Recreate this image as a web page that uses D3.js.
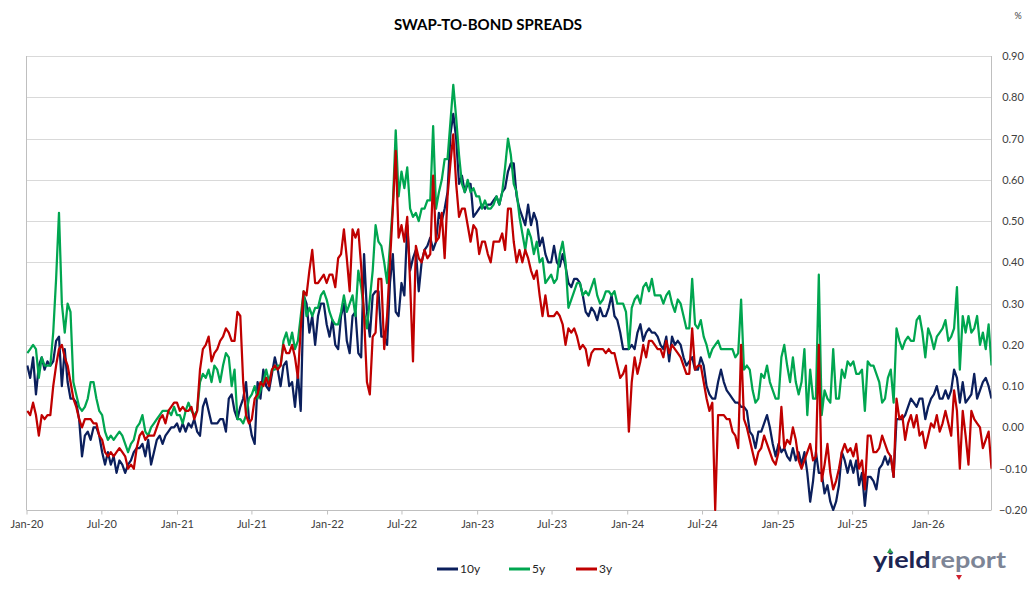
<!doctype html>
<html>
<head>
<meta charset="utf-8">
<script src="https://d3js.org/d3.v7.min.js"></script>
<style>
  body { margin: 0; background: #fff; }
  text { font-family: Lato, "Open Sans", sans-serif; }
</style>
</head>
<body>
<svg width="1035" height="589"></svg>
<script>
// weekly readings, first one on 3 Jan 2020
var startDate = new Date(2020, 0, 3);
var seriesNames = ["10y", "5y", "3y"];
var seriesColors = ["#0b1f5c", "#00a650", "#c00000"];
var yTicks = [-0.2, -0.1, 0, 0.1, 0.2, 0.3, 0.4, 0.5, 0.6, 0.7, 0.8, 0.9];

var tenYear = [
  0.15,0.12,0.17,0.08,0.15,0.17,0.14,0.16,0.15,0.16,
  0.21,0.22,0.10,0.19,0.11,0.07,0.07,0.06,0.02,-0.07,
  -0.02,-0.01,-0.03,0.00,0.00,-0.02,-0.06,-0.09,-0.06,-0.09,
  -0.07,-0.11,-0.08,-0.09,-0.11,-0.09,-0.08,-0.06,-0.05,-0.05,
  -0.04,-0.07,-0.03,-0.09,-0.06,-0.03,-0.02,-0.04,-0.02,-0.01,
  0.00,0.00,0.01,-0.01,0.01,-0.01,0.01,0.00,0.02,-0.01,
  -0.02,0.05,0.07,0.04,0.01,0.01,0.01,0.02,0.02,-0.01,
  0.07,0.08,0.04,0.02,0.05,0.07,0.11,0.02,-0.02,-0.04,
  0.11,0.07,0.14,0.10,0.09,0.13,0.17,0.14,0.10,0.15,
  0.16,0.10,0.11,0.05,0.13,0.04,0.32,0.30,0.23,0.27,
  0.20,0.27,0.30,0.30,0.25,0.22,0.26,0.20,0.19,0.27,
  0.30,0.21,0.18,0.27,0.28,0.18,0.17,0.42,0.28,0.22,
  0.32,0.33,0.33,0.22,0.22,0.20,0.35,0.42,0.28,0.27,
  0.35,0.32,0.49,0.38,0.41,0.43,0.33,0.40,0.43,0.44,
  0.46,0.43,0.45,0.52,0.50,0.53,0.57,0.71,0.76,0.70,
  0.59,0.61,0.57,0.59,0.59,0.51,0.52,0.53,0.54,0.53,
  0.54,0.54,0.55,0.56,0.54,0.57,0.58,0.62,0.64,0.64,
  0.56,0.53,0.51,0.49,0.54,0.49,0.52,0.50,0.44,0.46,
  0.42,0.40,0.40,0.44,0.40,0.39,0.42,0.39,0.35,0.34,
  0.36,0.36,0.35,0.32,0.28,0.27,0.29,0.28,0.26,0.29,
  0.27,0.27,0.29,0.32,0.27,0.26,0.23,0.19,0.19,0.19,
  0.20,0.19,0.23,0.25,0.21,0.23,0.24,0.23,0.23,0.22,
  0.20,0.19,0.22,0.16,0.22,0.20,0.21,0.20,0.17,0.15,
  0.16,0.17,0.14,0.14,0.17,0.15,0.10,0.08,0.07,0.07,
  0.11,0.14,0.11,0.09,0.08,0.07,0.06,0.06,0.05,0.05,
  0.04,-0.01,-0.02,-0.05,-0.01,-0.01,0.01,0.03,0.00,-0.04,
  -0.07,-0.04,-0.06,-0.05,-0.07,-0.08,-0.05,-0.08,-0.06,-0.09,
  -0.06,-0.11,-0.18,-0.13,-0.06,-0.11,-0.11,-0.16,-0.14,-0.18,
  -0.20,-0.18,-0.14,-0.06,-0.08,-0.11,-0.08,-0.11,-0.08,-0.14,
  -0.11,-0.19,-0.12,-0.12,-0.13,-0.15,-0.10,-0.09,-0.07,-0.09,
  -0.07,-0.12,0.02,0.02,0.02,0.03,0.05,0.07,0.06,0.05,
  0.07,0.07,0.02,0.05,0.07,0.08,0.10,0.07,0.07,0.09,
  0.07,0.09,0.14,0.12,0.06,0.11,0.06,0.07,0.08,0.13,
  0.07,0.09,0.11,0.12,0.10,0.07
];

var fiveYear = [
  0.18,0.19,0.20,0.19,0.12,0.17,0.15,0.15,0.15,0.23,
  0.36,0.52,0.30,0.23,0.30,0.28,0.11,0.08,0.05,0.04,
  0.05,0.07,0.11,0.11,0.07,0.04,0.03,-0.01,-0.03,-0.02,
  -0.03,-0.02,-0.01,-0.02,-0.04,-0.06,-0.04,-0.03,0.00,0.01,
  0.03,-0.01,-0.02,0.00,0.01,0.02,0.03,0.04,0.04,0.04,
  0.03,0.05,0.03,0.03,0.01,0.04,0.06,0.04,0.03,0.04,
  0.11,0.13,0.12,0.14,0.11,0.15,0.14,0.11,0.15,0.18,
  0.17,0.10,0.14,0.02,0.02,0.01,0.03,0.07,0.08,0.10,
  0.07,0.09,0.11,0.14,0.11,0.14,0.14,0.15,0.15,0.21,
  0.23,0.20,0.23,0.19,0.21,0.27,0.33,0.27,0.29,0.27,
  0.29,0.29,0.32,0.33,0.31,0.28,0.26,0.25,0.25,0.28,
  0.32,0.28,0.30,0.32,0.27,0.38,0.34,0.28,0.24,0.31,
  0.38,0.49,0.45,0.44,0.40,0.35,0.44,0.54,0.72,0.56,
  0.62,0.58,0.63,0.53,0.51,0.52,0.50,0.53,0.53,0.55,
  0.55,0.73,0.53,0.57,0.60,0.65,0.65,0.74,0.83,0.75,
  0.66,0.59,0.57,0.60,0.57,0.58,0.56,0.56,0.53,0.55,
  0.53,0.53,0.54,0.56,0.54,0.57,0.63,0.70,0.66,0.59,
  0.57,0.51,0.47,0.43,0.48,0.46,0.42,0.45,0.40,0.41,
  0.35,0.36,0.37,0.35,0.36,0.42,0.45,0.40,0.29,0.31,
  0.33,0.35,0.35,0.32,0.33,0.32,0.34,0.36,0.32,0.30,
  0.31,0.33,0.33,0.32,0.33,0.30,0.30,0.30,0.28,0.19,
  0.29,0.31,0.32,0.30,0.34,0.35,0.33,0.36,0.32,0.32,
  0.32,0.30,0.32,0.33,0.30,0.28,0.31,0.30,0.27,0.24,
  0.24,0.36,0.25,0.24,0.26,0.22,0.20,0.17,0.19,0.20,
  0.21,0.19,0.19,0.19,0.19,0.19,0.17,0.18,0.31,0.14,
  0.15,0.14,0.09,0.06,0.07,0.13,0.12,0.15,0.11,0.09,
  0.07,0.07,0.17,0.20,0.15,0.11,0.17,0.11,0.08,0.11,
  0.19,0.03,0.14,0.07,0.07,0.37,0.03,0.09,0.07,0.06,
  0.19,0.07,0.07,0.14,0.12,0.16,0.15,0.16,0.13,0.13,
  0.14,0.04,0.16,0.15,0.15,0.13,0.11,0.06,0.07,0.12,
  0.14,0.06,0.24,0.21,0.19,0.21,0.22,0.21,0.21,0.26,
  0.27,0.23,0.17,0.24,0.22,0.19,0.22,0.23,0.24,0.26,
  0.21,0.22,0.24,0.34,0.14,0.27,0.23,0.27,0.23,0.24,
  0.27,0.20,0.23,0.19,0.25,0.15
];

var threeYear = [
  0.04,0.03,0.06,0.03,-0.02,0.03,0.02,0.03,0.03,0.10,
  0.15,0.19,0.20,0.17,0.15,0.11,0.07,0.05,0.02,0.00,
  0.02,0.02,0.02,0.01,0.01,-0.02,-0.03,-0.06,-0.07,-0.06,
  -0.07,-0.06,-0.05,-0.06,-0.07,-0.10,-0.09,-0.10,-0.05,-0.02,
  -0.01,-0.03,-0.02,-0.02,-0.02,0.00,0.02,0.03,0.01,0.04,
  0.05,0.06,0.06,0.04,0.05,0.04,0.04,0.05,0.02,0.04,
  0.14,0.19,0.20,0.22,0.16,0.18,0.19,0.21,0.22,0.24,
  0.23,0.21,0.21,0.28,0.27,0.11,0.03,0.01,0.02,0.07,
  0.08,0.11,0.10,0.12,0.10,0.14,0.15,0.14,0.15,0.20,
  0.18,0.18,0.20,0.17,0.12,0.24,0.33,0.32,0.38,0.43,
  0.35,0.35,0.36,0.37,0.35,0.37,0.37,0.34,0.41,0.42,
  0.48,0.41,0.33,0.48,0.46,0.48,0.39,0.27,0.11,0.08,
  0.22,0.23,0.36,0.36,0.19,0.27,0.40,0.53,0.67,0.46,
  0.49,0.45,0.51,0.35,0.16,0.44,0.41,0.40,0.43,0.41,
  0.42,0.61,0.45,0.46,0.52,0.41,0.56,0.64,0.71,0.59,
  0.51,0.53,0.53,0.49,0.45,0.49,0.48,0.42,0.45,0.45,
  0.42,0.40,0.45,0.45,0.45,0.47,0.43,0.53,0.53,0.45,
  0.40,0.43,0.40,0.43,0.41,0.38,0.36,0.38,0.32,0.27,
  0.32,0.27,0.27,0.27,0.28,0.27,0.25,0.20,0.24,0.23,
  0.24,0.22,0.19,0.20,0.19,0.15,0.18,0.19,0.19,0.19,
  0.19,0.18,0.19,0.18,0.18,0.15,0.12,0.13,0.15,-0.01,
  0.11,0.17,0.13,0.16,0.20,0.17,0.21,0.21,0.20,0.19,
  0.19,0.17,0.21,0.18,0.20,0.19,0.18,0.17,0.15,0.13,
  0.13,0.24,0.14,0.15,0.15,0.11,0.07,0.04,0.06,-0.20,
  0.03,0.03,0.03,0.02,0.02,-0.01,-0.02,-0.05,0.20,0.02,
  0.00,-0.03,-0.06,-0.09,-0.06,-0.05,-0.02,-0.04,-0.06,-0.08,
  -0.09,-0.06,0.05,-0.05,-0.03,-0.04,0.00,-0.03,-0.08,-0.10,
  -0.08,-0.06,-0.04,-0.08,-0.07,0.20,-0.13,-0.09,-0.04,-0.11,
  -0.15,-0.13,-0.10,-0.06,-0.04,-0.06,-0.05,-0.07,-0.04,-0.10,
  -0.08,-0.15,-0.02,-0.02,-0.06,-0.06,-0.05,-0.02,-0.04,-0.06,
  -0.07,-0.12,0.07,0.02,0.03,-0.03,0.01,0.03,0.00,0.03,
  -0.02,-0.01,-0.05,-0.02,0.01,0.00,0.03,-0.01,0.01,0.04,
  0.01,-0.02,0.09,0.04,-0.10,0.04,-0.02,-0.09,0.04,0.02,
  0.01,0.00,-0.05,-0.03,-0.01,-0.10
];

var svg = d3.select("svg");
var plotLeft = 26.5, plotRight = 991.5, plotTop = 56, plotBottom = 510;

var dates = tenYear.map(function(d, i) { return d3.timeDay.offset(startDate, 7 * i); });
var allSeries = [tenYear, fiveYear, threeYear];

var x = d3.scaleTime()
    .domain([new Date(2020, 0, 1), dates[dates.length - 1]])
    .range([plotLeft, plotRight]);
var y = d3.scaleLinear().domain([-0.2, 0.9]).range([plotBottom, plotTop]);

// title and unit
svg.append("text")
   .attr("x", 488).attr("y", 30)
   .attr("text-anchor", "middle")
   .attr("font-size", "15px").attr("font-weight", "bold")
   .attr("fill", "#000")
   .text("SWAP-TO-BOND SPREADS");

svg.append("text")
   .attr("x", 1018).attr("y", 19)
   .attr("text-anchor", "middle")
   .attr("font-size", "9px").attr("fill", "#404040")
   .text("%");

// gridlines
svg.append("g")
   .selectAll("line")
   .data(yTicks)
   .enter().append("line")
   .attr("x1", plotLeft).attr("x2", plotRight)
   .attr("y1", function(d) { return Math.round(y(d)) + 0.5; })
   .attr("y2", function(d) { return Math.round(y(d)) + 0.5; })
   .attr("stroke", function(d) { return d === -0.2 ? "#bfbfbf" : "#d9d9d9"; })
   .attr("stroke-width", 1);

// plot border sides
svg.append("line").attr("x1", plotLeft).attr("x2", plotLeft).attr("y1", plotTop).attr("y2", plotBottom)
   .attr("stroke", "#bfbfbf");
svg.append("line").attr("x1", plotRight).attr("x2", plotRight).attr("y1", plotTop).attr("y2", plotBottom)
   .attr("stroke", "#bfbfbf");

// right axis labels
svg.append("g")
   .selectAll("text")
   .data(yTicks)
   .enter().append("text")
   .attr("x", 1013)
   .attr("y", function(d) { return y(d) + 4; })
   .attr("text-anchor", "middle")
   .attr("font-size", "11px").attr("fill", "#404040")
   .text(function(d) { return d3.format(".2f")(d); });

// x axis
var xAxis = d3.axisBottom(x)
    .tickValues(d3.timeMonth.every(6).range(new Date(2020, 0, 1), dates[dates.length - 1]))
    .tickFormat(d3.timeFormat("%b-%y"))
    .tickSize(4)
    .tickPadding(6);

var gx = svg.append("g")
   .attr("transform", "translate(0," + (plotBottom + 0.5) + ")")
   .call(xAxis);
gx.select(".domain").remove();
gx.selectAll(".tick line").attr("stroke", "#bfbfbf");
gx.selectAll(".tick text")
  .attr("font-size", "11px").attr("fill", "#404040")
  .attr("font-family", "Lato, 'Open Sans', sans-serif");

// series
svg.append("clipPath").attr("id", "plot")
   .append("rect").attr("x", plotLeft).attr("y", plotTop - 1)
   .attr("width", plotRight - plotLeft).attr("height", plotBottom - plotTop + 2);

var line = d3.line()
    .x(function(d, i) { return x(dates[i]); })
    .y(function(d) { return y(d); });

svg.append("g")
   .attr("clip-path", "url(#plot)")
   .selectAll("path")
   .data(allSeries)
   .enter().append("path")
   .attr("d", line)
   .attr("fill", "none")
   .attr("stroke", function(d, i) { return seriesColors[i]; })
   .attr("stroke-width", 2.25)
   .attr("stroke-linejoin", "round");

// legend
var legendX = [437, 509, 576];
var legend = svg.append("g")
   .selectAll("g")
   .data(seriesNames)
   .enter().append("g")
   .attr("transform", function(d, i) { return "translate(" + legendX[i] + ",569)"; });
legend.append("line")
   .attr("x1", 0).attr("x2", 21).attr("y1", 0).attr("y2", 0)
   .attr("stroke", function(d, i) { return seriesColors[i]; })
   .attr("stroke-width", 3);
legend.append("text")
   .attr("x", 23).attr("y", 4)
   .attr("font-size", "12px").attr("fill", "#262626")
   .text(function(d) { return d; });

// yieldreport logo
var logo = svg.append("text")
   .attr("x", 873).attr("y", 568)
   .attr("font-size", "22px").attr("font-weight", "bold")
   .attr("font-family", "Roboto, sans-serif")
   .attr("textLength", 133).attr("lengthAdjust", "spacingAndGlyphs");
logo.append("tspan").attr("fill", "#1c2553").text("yield");
logo.append("tspan").attr("fill", "#7d8596").text("report");

svg.append("path").attr("d", "M887,553 L893,553 L890,548 Z").attr("fill", "#2e9e4f");
svg.append("path").attr("d", "M956,575 L962,575 L959,580 Z").attr("fill", "#d0202e");
</script>
</body>
</html>
